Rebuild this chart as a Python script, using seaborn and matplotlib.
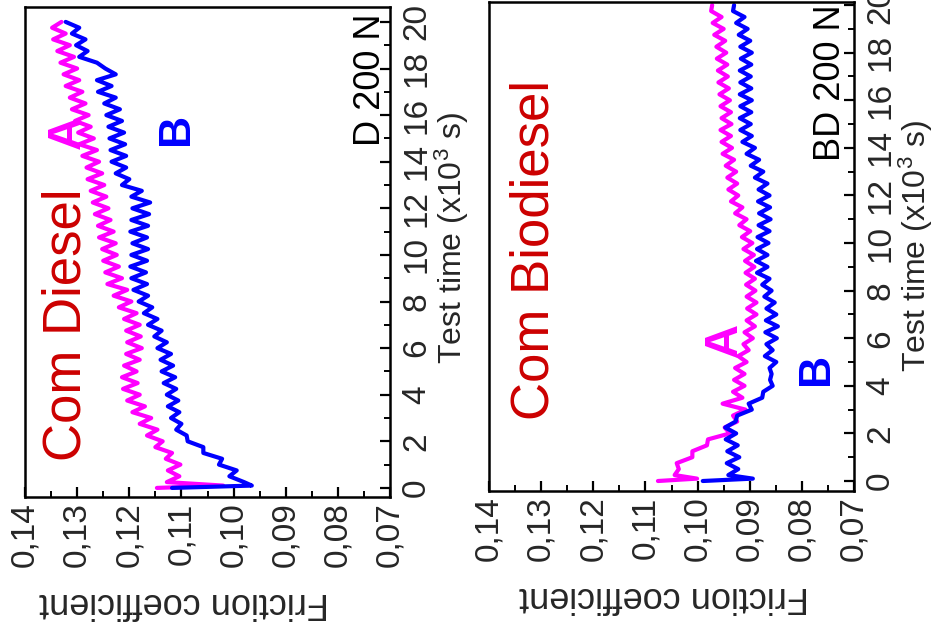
import matplotlib
matplotlib.use("Agg")
import matplotlib.pyplot as plt
from matplotlib.ticker import MultipleLocator
import pandas as pd
import seaborn as sns

# test time (x10^3 s), shared by all four traces
TIME = [
    0.0, 0.1,
    0.25, 0.5, 0.75, 1.0, 1.25, 1.5, 1.75, 2.0,
    2.25, 2.5, 2.75, 3.0, 3.25, 3.5, 3.75, 4.0,
    4.25, 4.5, 4.75, 5.0, 5.25, 5.5, 5.75, 6.0,
    6.25, 6.5, 6.75, 7.0, 7.25, 7.5, 7.75, 8.0,
    8.25, 8.5, 8.75, 9.0, 9.25, 9.5, 9.75, 10.0,
    10.25, 10.5, 10.75, 11.0, 11.25, 11.5, 11.75, 12.0,
    12.25, 12.5, 12.75, 13.0, 13.25, 13.5, 13.75, 14.0,
    14.25, 14.5, 14.75, 15.0, 15.25, 15.5, 15.75, 16.0,
    16.25, 16.5, 16.75, 17.0, 17.25, 17.5, 17.75, 18.0,
    18.25, 18.5, 18.75, 19.0, 19.25, 19.5, 19.75, 20.0,
]

DIESEL_A = [
    0.1147, 0.1020,
    0.1128, 0.1104, 0.1126, 0.1102, 0.1130, 0.1118, 0.1150, 0.1136,
    0.1166, 0.1146, 0.1180, 0.1158, 0.1194, 0.1170, 0.1204, 0.1180,
    0.1212, 0.1184, 0.1214, 0.1186, 0.1210, 0.1180, 0.1206, 0.1176,
    0.1204, 0.1178, 0.1206, 0.1180, 0.1210, 0.1186, 0.1220, 0.1196,
    0.1230, 0.1204, 0.1242, 0.1214, 0.1246, 0.1220, 0.1250, 0.1224,
    0.1252, 0.1226, 0.1258, 0.1230, 0.1260, 0.1236, 0.1266, 0.1240,
    0.1270, 0.1244, 0.1274, 0.1248, 0.1280, 0.1252, 0.1282, 0.1258,
    0.1290, 0.1262, 0.1296, 0.1268, 0.1298, 0.1274, 0.1304, 0.1278,
    0.1310, 0.1284, 0.1314, 0.1290, 0.1322, 0.1296, 0.1326, 0.1300,
    0.1332, 0.1306, 0.1338, 0.1314, 0.1346, 0.1322, 0.1348, 0.1330,
]

DIESEL_B = [
    0.1118, 0.0965,
    0.0980, 0.1008, 0.0994, 0.1028, 0.1022, 0.1058, 0.1058, 0.1088,
    0.1090, 0.1110, 0.1100, 0.1120, 0.1104, 0.1126, 0.1106, 0.1128,
    0.1110, 0.1134, 0.1112, 0.1138, 0.1116, 0.1140, 0.1120, 0.1146,
    0.1128, 0.1152, 0.1138, 0.1164, 0.1146, 0.1172, 0.1156, 0.1182,
    0.1164, 0.1192, 0.1166, 0.1196, 0.1168, 0.1198, 0.1166, 0.1196,
    0.1164, 0.1194, 0.1166, 0.1198, 0.1164, 0.1196, 0.1162, 0.1194,
    0.1160, 0.1196, 0.1176, 0.1214, 0.1200, 0.1226, 0.1206, 0.1234,
    0.1206, 0.1236, 0.1208, 0.1238, 0.1210, 0.1240, 0.1214, 0.1244,
    0.1218, 0.1248, 0.1226, 0.1260, 0.1234, 0.1262, 0.1226, 0.1246,
    0.1262, 0.1296, 0.1280, 0.1302, 0.1284, 0.1310, 0.1296, 0.1322,
]

BIODIESEL_A = [
    0.1076, 0.1001,
    0.1044, 0.1036, 0.1040, 0.1010, 0.1010, 0.0982, 0.0980, 0.0938,
    0.0948, 0.0924, 0.0932, 0.0908, 0.0952, 0.0914, 0.0932, 0.0910,
    0.0930, 0.0910, 0.0928, 0.0906, 0.0922, 0.0902, 0.0912, 0.0894,
    0.0910, 0.0890, 0.0906, 0.0887, 0.0905, 0.0887, 0.0906, 0.0889,
    0.0907, 0.0890, 0.0908, 0.0891, 0.0909, 0.0892, 0.0912, 0.0895,
    0.0915, 0.0899, 0.0920, 0.0906, 0.0928, 0.0914, 0.0936, 0.0922,
    0.0941, 0.0924, 0.0943, 0.0926, 0.0946, 0.0930, 0.0952, 0.0934,
    0.0954, 0.0936, 0.0956, 0.0935, 0.0954, 0.0936, 0.0956, 0.0938,
    0.0958, 0.0940, 0.0960, 0.0942, 0.0961, 0.0943, 0.0963, 0.0945,
    0.0964, 0.0947, 0.0968, 0.0950, 0.0971, 0.0954, 0.0974, 0.0972,
]

BIODIESEL_B = [
    0.0990, 0.0894,
    0.0941, 0.0922, 0.0944, 0.0920, 0.0943, 0.0923, 0.0946, 0.0926,
    0.0947, 0.0927, 0.0924, 0.0896, 0.0902, 0.0876, 0.0874, 0.0856,
    0.0861, 0.0858, 0.0862, 0.0849, 0.0871, 0.0856, 0.0868, 0.0848,
    0.0870, 0.0846, 0.0869, 0.0849, 0.0868, 0.0852, 0.0872, 0.0858,
    0.0876, 0.0862, 0.0886, 0.0866, 0.0888, 0.0866, 0.0886, 0.0864,
    0.0885, 0.0862, 0.0883, 0.0860, 0.0882, 0.0861, 0.0884, 0.0862,
    0.0883, 0.0866, 0.0890, 0.0874, 0.0898, 0.0882, 0.0906, 0.0890,
    0.0914, 0.0896, 0.0918, 0.0898, 0.0919, 0.0897, 0.0918, 0.0896,
    0.0919, 0.0897, 0.0918, 0.0898, 0.0919, 0.0897, 0.0917, 0.0896,
    0.0918, 0.0899, 0.0921, 0.0904, 0.0926, 0.0910, 0.0932, 0.0930,
]

FRICTION_TICKS = [0.14, 0.13, 0.12, 0.11, 0.10, 0.09, 0.08, 0.07]
FRICTION_LABELS = ["0,14", "0,13", "0,12", "0,11", "0,10", "0,09", "0,08", "0,07"]
TIME_TICKS = [0, 2, 4, 6, 8, 10, 12, 14, 16, 18, 20]

COLORS = {"A": "#ff00ff", "B": "#0000ff"}
RED = "#cc0000"


def make_frame(series_a, series_b):
    rows = []
    for name, values in (("A", series_a), ("B", series_b)):
        for t, f in zip(TIME, values):
            rows.append({"time": t, "friction": f, "sample": name})
    return pd.DataFrame(rows)


def style_axis(ax, ylim, xlabel_x, ylabel_y):
    ax.set_xlim(0.14, 0.07)
    ax.set_ylim(*ylim)
    ax.set_xticks(FRICTION_TICKS, labels=FRICTION_LABELS)
    ax.xaxis.set_minor_locator(MultipleLocator(0.005))
    ax.set_yticks(TIME_TICKS, labels=[str(t) for t in TIME_TICKS])
    ax.yaxis.set_minor_locator(MultipleLocator(1))
    ax.yaxis.tick_right()
    ax.yaxis.set_label_position("right")
    ax.tick_params(axis="x", which="both", direction="in", bottom=True, top=False,
                   labelrotation=90, labelsize=24, pad=4)
    ax.tick_params(axis="y", which="both", direction="in", right=True, left=False,
                   labelrotation=90, labelsize=24, pad=8)
    ax.tick_params(which="major", length=7, width=1.6, color="black")
    ax.tick_params(which="minor", length=4, width=1.4, color="black")
    for lbl in ax.get_yticklabels():
        lbl.set_va("center")
        lbl.set_ha("left")
    for spine in ax.spines.values():
        spine.set_visible(True)
        spine.set_linewidth(1.8)
        spine.set_color("black")
    ax.set_xlabel("Friction coefficient", fontsize=26, rotation=180, ha="center", va="center")
    ax.xaxis.set_label_coords(xlabel_x, -0.215)
    ax.set_ylabel("Test time (x10$^3$ s)", fontsize=23, rotation=90, ha="center", va="center")
    ax.yaxis.set_label_coords(1.17, ylabel_y)


def rotated_text(ax, x, y, text, color, size, weight="normal"):
    ax.text(x, y, text, transform=ax.transAxes, rotation=90, rotation_mode="anchor",
            ha="center", va="baseline", color=color, fontsize=size, fontweight=weight)


sns.set_style("ticks")
plt.rcParams["font.family"] = ["Liberation Sans", "DejaVu Sans"]
plt.rcParams["mathtext.default"] = "regular"

fig = plt.figure(figsize=(9.38, 6.32), dpi=100)
ax1 = fig.add_axes([25 / 938, 1 - 497 / 632, 365 / 938, 490 / 632])
ax2 = fig.add_axes([489 / 938, 1 - 491 / 632, 365 / 938, 489 / 632])

for ax, a, b in ((ax1, DIESEL_A, DIESEL_B), (ax2, BIODIESEL_A, BIODIESEL_B)):
    sns.lineplot(data=make_frame(a, b), x="friction", y="time", hue="sample",
                 palette=COLORS, orient="y", estimator=None, sort=False,
                 linewidth=3.0, legend=False, ax=ax)

style_axis(ax1, (-0.39, 20.64), 0.436, 0.529)
style_axis(ax2, (-0.42, 20.13), 0.479, 0.501)

rotated_text(ax1, 0.151, 0.351, "Com Diesel", RED, 38)
rotated_text(ax1, 0.973, 0.851, "D 200 N", "black", 26)
rotated_text(ax1, 0.151, 0.745, "A", COLORS["A"], 34, "bold")
rotated_text(ax1, 0.447, 0.751, "B", COLORS["B"], 32, "bold")

rotated_text(ax2, 0.162, 0.493, "Com Biodiesel", RED, 38)
rotated_text(ax2, 0.962, 0.834, "BD 200 N", "black", 26)
rotated_text(ax2, 0.679, 0.309, "A", COLORS["A"], 34, "bold")
rotated_text(ax2, 0.929, 0.249, "B", COLORS["B"], 32, "bold")

fig.savefig("out.png", dpi=100)
